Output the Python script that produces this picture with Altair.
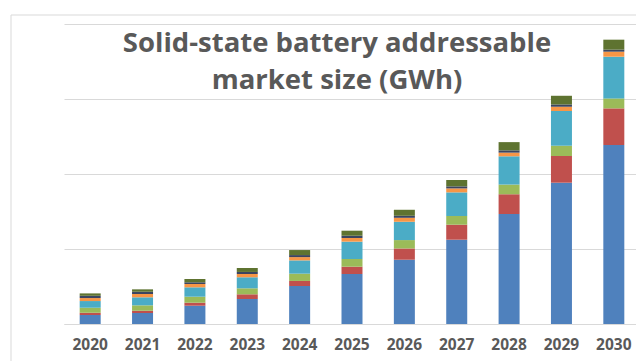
import altair as alt
import pandas as pd

# Addressable market by year, split into stacked segments (GWh)
years = ["2020", "2021", "2022", "2023", "2024", "2025", "2026", "2027", "2028", "2029", "2030"]
seg_names = ["S1", "S2", "S3", "S4", "S5", "S6", "S7"]
seg_colors = ["#4F81BD", "#C0504D", "#9BBB59", "#4BACC6", "#F79646", "#3B4560", "#5E7330"]

s1 = [12.0, 14.7, 24.4, 33.3, 50.7, 66.7, 85.7, 112.4, 146.7, 188.4, 238.7]
s2 = [3.0, 3.0, 4.0, 6.3, 6.7, 9.7, 15.0, 20.0, 26.3, 35.6, 48.8]
s3 = [6.7, 7.2, 8.0, 8.0, 9.7, 10.3, 11.2, 11.6, 12.9, 13.7, 13.3]
s4 = [8.9, 10.7, 12.5, 14.7, 17.7, 23.1, 24.4, 31.5, 37.7, 46.3, 55.6]
s5 = [4.0, 4.4, 4.4, 4.4, 4.4, 4.9, 5.3, 5.3, 4.9, 5.7, 6.7]
s6 = [3.0, 3.0, 2.3, 2.7, 2.7, 3.0, 2.7, 2.7, 3.0, 3.0, 2.7]
s7 = [3.2, 3.2, 4.4, 5.3, 6.7, 6.7, 8.0, 8.5, 11.0, 11.6, 13.3]

grid_values = [0, 100, 200, 300, 400]
title_lines = ["Solid-state battery addressable", "market size (GWh)"]

rows = []
for idx, (name, vals) in enumerate(zip(seg_names, [s1, s2, s3, s4, s5, s6, s7])):
    for yr, v in zip(years, vals):
        rows.append({"year": yr, "segment": name, "order": idx, "value": v})
df = pd.DataFrame(rows)

W, H = 572, 300
TXT = "#595959"

# light outer frame of the chart area
frame = alt.Chart(pd.DataFrame({"k": [0]})).mark_rect(
    fill="transparent", stroke="#d9d9d9", strokeWidth=1
).encode(
    x=alt.value(-53), x2=alt.value(700), y=alt.value(-9), y2=alt.value(420)
)

bars = alt.Chart(df).mark_bar(size=21).encode(
    x=alt.X(
        "year:N",
        sort=years,
        scale=alt.Scale(range=[0, 576], paddingInner=0.6, paddingOuter=0.3),
        axis=alt.Axis(
            title=None, labelAngle=0, labelFont="Open Sans", labelFontWeight="bold",
            labelFontSize=15.5, labelColor=TXT, labelPadding=13, ticks=False,
            domain=True, domainColor="#d9d9d9", domainWidth=1, grid=False,
        ),
    ),
    y=alt.Y(
        "value:Q",
        stack="zero",
        scale=alt.Scale(domain=[0, 400], nice=False),
        axis=alt.Axis(
            title=None, labels=False, ticks=False, domain=False, values=grid_values,
            grid=True, gridColor="#d9d9d9", gridWidth=1,
        ),
    ),
    color=alt.Color("segment:N", scale=alt.Scale(domain=seg_names, range=seg_colors), legend=None),
    order=alt.Order("order:Q", sort="ascending"),
)


def title_line(text, ypos):
    return alt.Chart(pd.DataFrame({"line": [text]})).mark_text(
        font="Open Sans", fontWeight="bold", fontSize=27.5, color=TXT,
        align="center", baseline="middle",
    ).encode(text="line:N", x=alt.value(273), y=alt.value(ypos))


chart = alt.layer(
    frame, bars, title_line(title_lines[0], 20), title_line(title_lines[1], 57)
).properties(
    width=W, height=H,
    padding={"left": 64, "top": 24, "right": 0, "bottom": 37},
    autosize=alt.AutoSizeParams(type="none"),
    background="white",
).configure_view(stroke=None)

chart.save("out.html", embed_options={"renderer": "svg", "actions": False})
